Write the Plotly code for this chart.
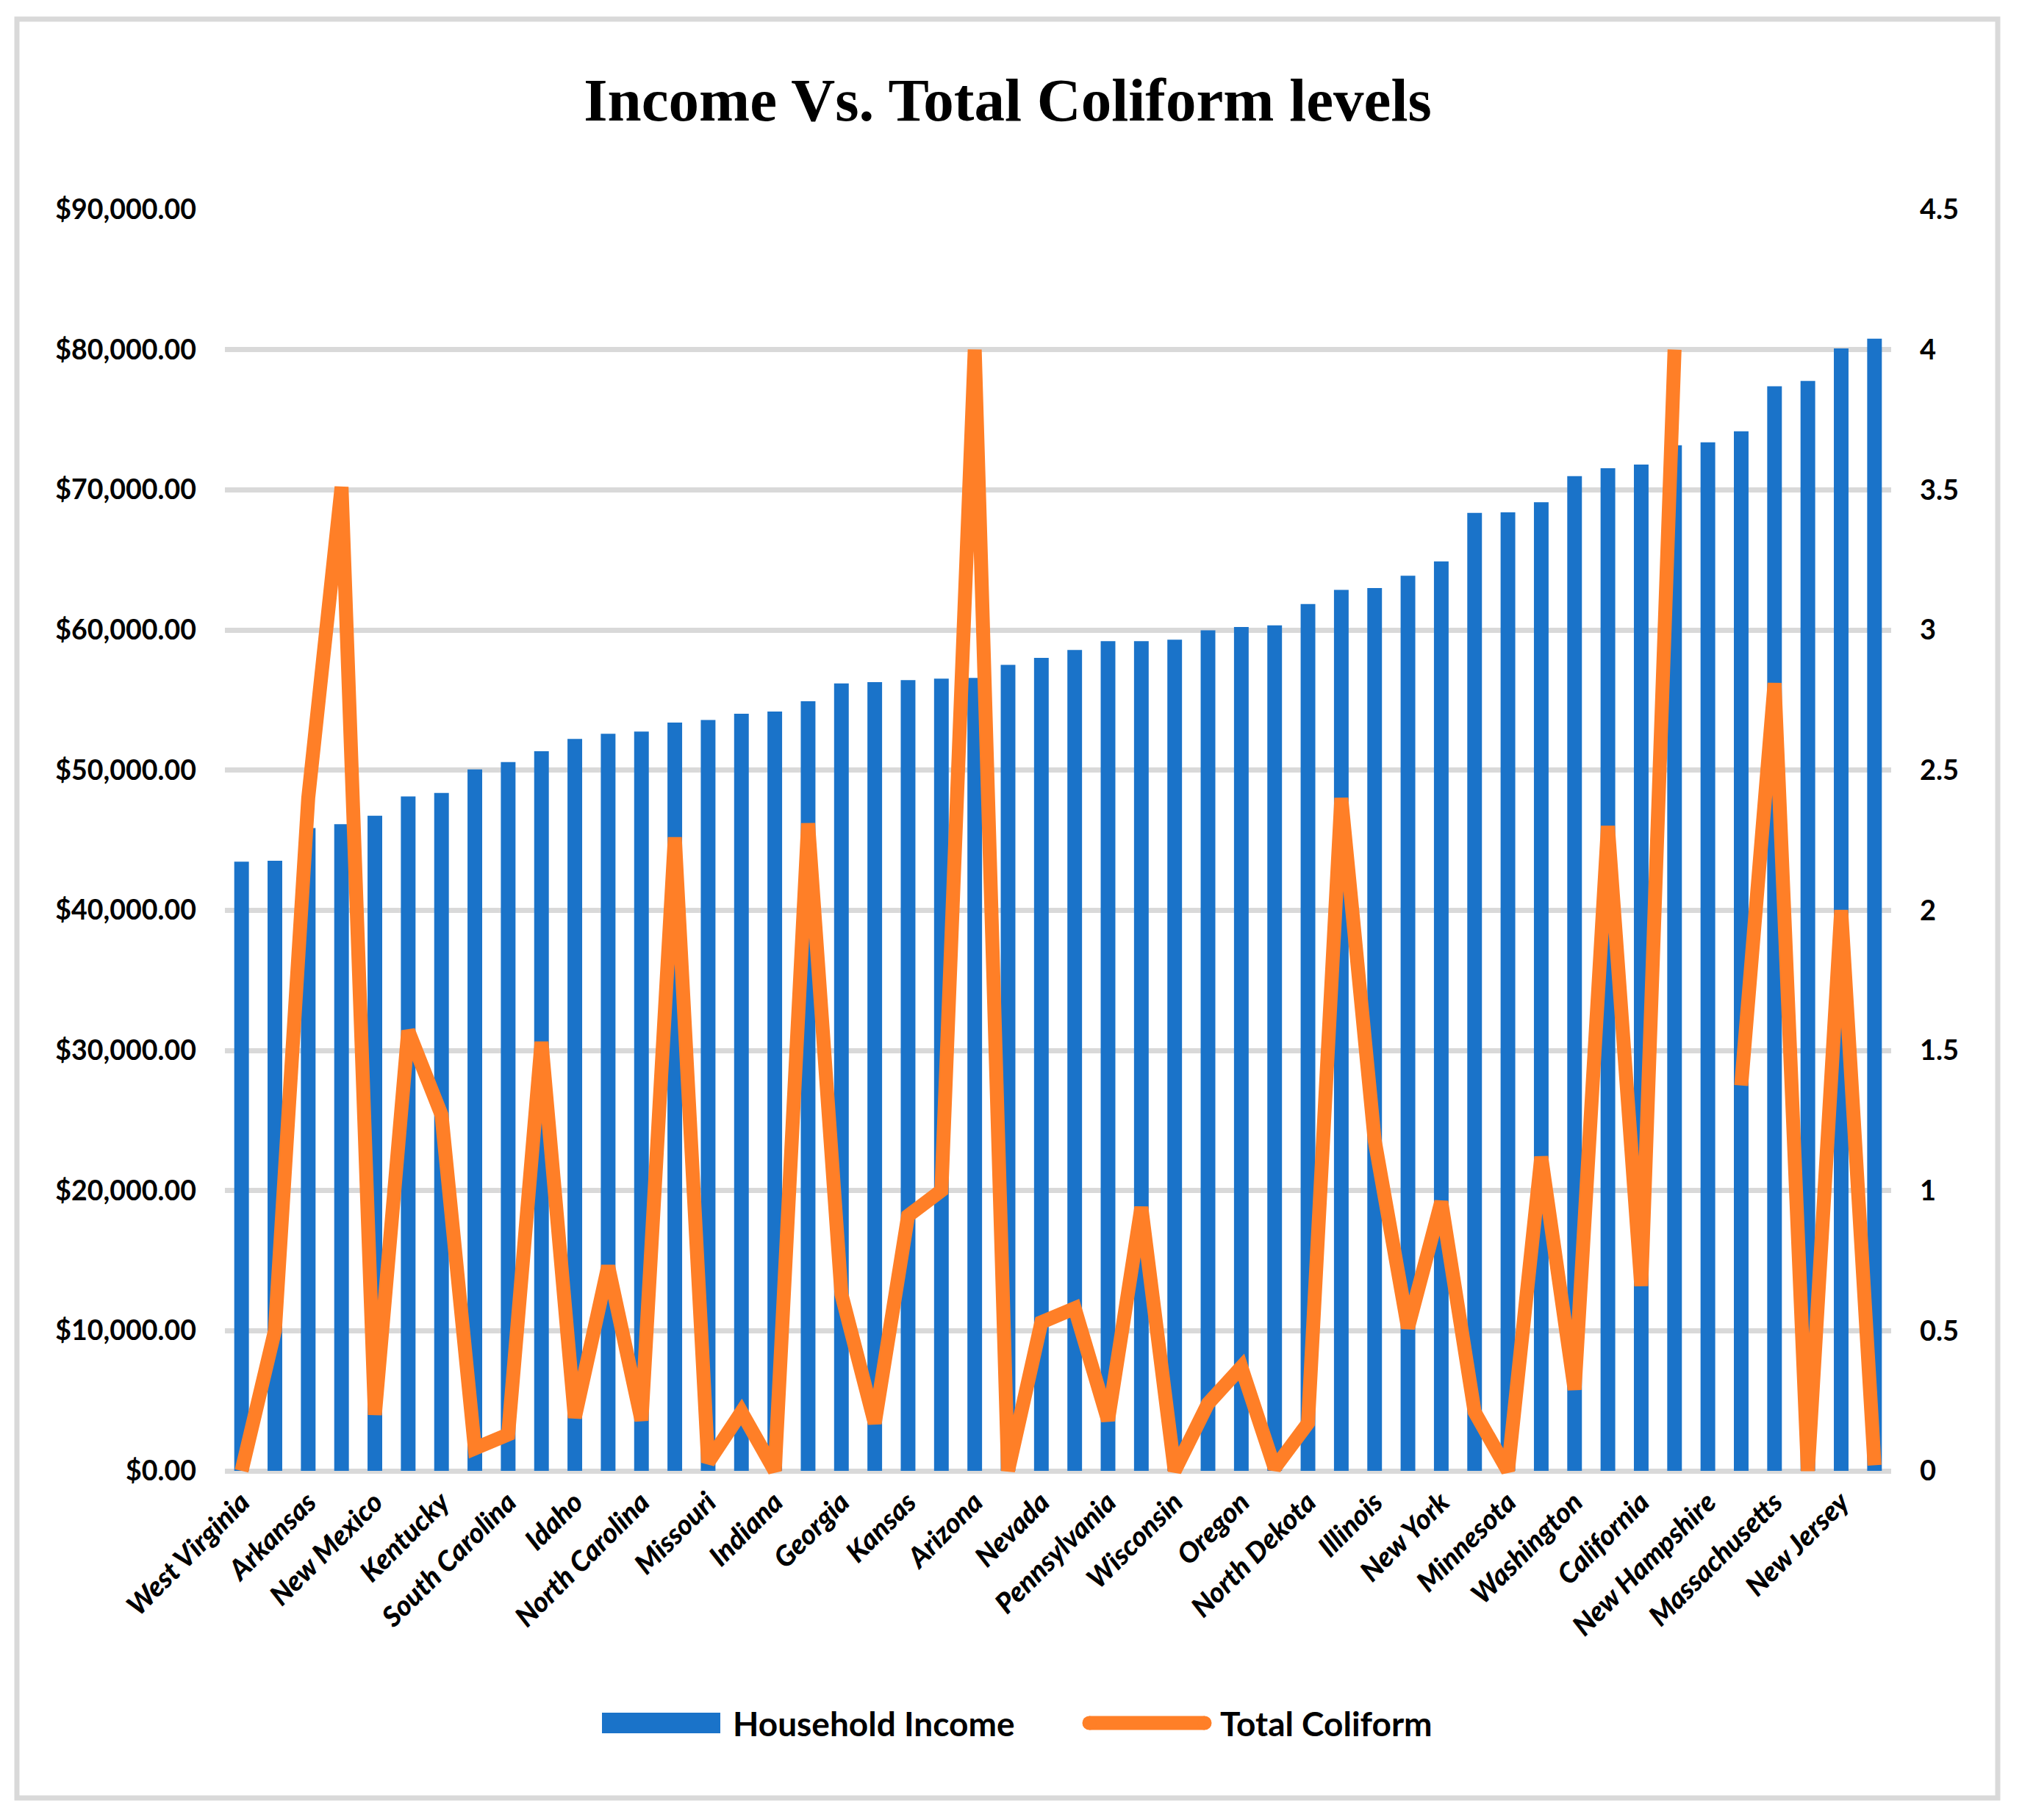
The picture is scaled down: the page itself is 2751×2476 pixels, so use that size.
import plotly.graph_objects as go

# ---------------- data ----------------
states = ["West Virginia", "Mississippi", "Arkansas", "Louisiana", "New Mexico",
          "Alabama", "Kentucky", "Oklahoma", "South Carolina", "Tennessee",
          "Idaho", "Florida", "North Carolina", "Montana", "Missouri",
          "Ohio", "Indiana", "Michigan", "Georgia", "Maine",
          "Kansas", "South Dakota", "Arizona", "Vermont", "Nevada",
          "Iowa", "Pennsylvania", "Texas", "Wisconsin", "Nebraska",
          "Oregon", "Wyoming", "North Dekota", "Delaware", "Illinois",
          "Rhode Island", "New York", "Utah", "Minnesota", "Colorado",
          "Washington", "Virginia", "California", "Alaska", "New Hampshire",
          "Connecticut", "Massachusetts", "Hawaii", "New Jersey", "Maryland"]

household_income = [43469, 43529, 45869, 46145, 46744, 48123, 48375, 50051, 50570, 51340,
                    52225, 52594, 52752, 53386, 53578, 54021, 54181, 54909, 56183, 56277,
                    56422, 56521, 56581, 57513, 58003, 58570, 59195, 59206, 59305, 59970,
                    60212, 60330, 61843, 62852, 62992, 63870, 64894, 68358, 68388, 69117,
                    70979, 71535, 71805, 73181, 73381, 74168, 77385, 77765, 80088, 80776]

total_coliform = [0, 0.5, 2.4, 3.51, 0.2, 1.57, 1.27, 0.08, 0.13, 1.53,
                  0.19, 0.73, 0.18, 2.26, 0.03, 0.21, 0, 2.31, 0.63, 0.17,
                  0.91, 1.0, 4.0, 0, 0.53, 0.58, 0.18, 0.94, 0, 0.24,
                  0.37, 0.01, 0.17, 2.40, 1.18, 0.51, 0.96, 0.21, 0, 1.12,
                  0.29, 2.30, 0.66, 4.0, None, 1.375, 2.81, 0, 2.0, 0.02]

shown_labels = states[::2]

# ---------------- layout geometry (page pixels) ----------------
OFF = 8                      # default body margin of the html page
W, H = 2751 - 2 * OFF, 2476 - 2 * OFF
PL, PR = 306 - OFF, 2573 - OFF     # plot area left / right
PT, P0 = 285 - OFF, 2001 - OFF     # top gridline (90k) / zero gridline
EXTRA = 12                   # room below zero so the thick line is not clipped
PB = P0 + EXTRA
ppu = (P0 - PT) / 90000.0
y_lo = -EXTRA / ppu
y2_lo = y_lo * 4.5 / 90000.0

def px_x(x):
    return (x - OFF - PL) / (PR - PL)

def px_y(y):
    return (PB - (y - OFF)) / (PB - PT)

BLUE = "#1A73C9"
ORANGE = "#FF7F27"
GRID = "#D9D9D9"
FONT = "Lato"

fig = go.Figure()
fig.add_trace(go.Bar(x=states, y=household_income, name="Household Income",
                     marker=dict(color=BLUE, line=dict(width=0)), yaxis="y"))
fig.add_trace(go.Scatter(x=states, y=total_coliform, name="Total Coliform",
                         mode="lines", line=dict(color=ORANGE, width=19),
                         connectgaps=False, yaxis="y2"))

fig.update_layout(
    width=W, height=H,
    margin=dict(l=PL, r=W - PR, t=PT, b=H - PB, pad=0),
    paper_bgcolor="white", plot_bgcolor="white",
    showlegend=False,
    bargap=0.56,
    title=dict(text="<b>Income Vs. Total Coliform levels</b>",
               font=dict(family="Liberation Serif", size=83, color="black"),
               x=(1371 - OFF) / W, xanchor="center", xref="container",
               y=1 - (135 - OFF) / H, yanchor="middle", yref="container"),
    xaxis=dict(type="category", categoryorder="array", categoryarray=states,
               tickmode="array", tickvals=shown_labels, ticktext=shown_labels,
               tickangle=-45, showgrid=False, showline=False, zeroline=False,
               ticks="", ticklabelstandoff=0, automargin=False,
               tickfont=dict(family=FONT, size=38, color="black",
                             weight=900, style="italic")),
    yaxis=dict(range=[y_lo, 90000], tickmode="linear", tick0=0, dtick=10000,
               tickprefix="$", tickformat=",.2f",
               showgrid=True, gridcolor=GRID, gridwidth=7, zeroline=False,
               showline=False, ticks="", ticklabelstandoff=38, automargin=False,
               tickfont=dict(family=FONT, size=37.5, color="black", weight="bold")),
    yaxis2=dict(range=[y2_lo, 4.5], overlaying="y", side="right",
                tickmode="linear", tick0=0, dtick=0.5,
                showgrid=False, zeroline=False, showline=False, ticks="",
                ticklabelstandoff=38, automargin=False,
                tickfont=dict(family=FONT, size=38, color="black", weight="bold")),
)

shapes = []
# outer chart border
shapes.append(dict(type="rect", xref="paper", yref="paper",
                   x0=px_x(23), x1=px_x(2718), y0=px_y(2446), y1=px_y(26),
                   line=dict(color=GRID, width=7), fillcolor="rgba(0,0,0,0)",
                   layer="below"))
# legend swatches
LEG_Y = 2344
shapes.append(dict(type="rect", xref="paper", yref="paper",
                   x0=px_x(819), x1=px_x(980), y0=px_y(LEG_Y + 14), y1=px_y(LEG_Y - 14),
                   line=dict(width=0), fillcolor=BLUE))
shapes.append(dict(type="line", xref="paper", yref="paper",
                   x0=px_x(1482), x1=px_x(1639), y0=px_y(LEG_Y), y1=px_y(LEG_Y),
                   line=dict(color=ORANGE, width=19)))
for cx in (1482, 1639):
    shapes.append(dict(type="circle", xref="paper", yref="paper",
                       x0=px_x(cx - 9.5), x1=px_x(cx + 9.5),
                       y0=px_y(LEG_Y + 9.5), y1=px_y(LEG_Y - 9.5),
                       line=dict(width=0), fillcolor=ORANGE))

annotations = [
    dict(text="Household Income", xref="paper", yref="paper",
         x=px_x(995), y=px_y(LEG_Y), xanchor="left", yanchor="middle",
         showarrow=False, font=dict(family=FONT, size=46, color="black", weight="bold")),
    dict(text="Total Coliform", xref="paper", yref="paper",
         x=px_x(1658), y=px_y(LEG_Y), xanchor="left", yanchor="middle",
         showarrow=False, font=dict(family=FONT, size=46, color="black", weight="bold")),
]

fig.update_layout(shapes=shapes, annotations=annotations)

fig.write_html("out.html")
